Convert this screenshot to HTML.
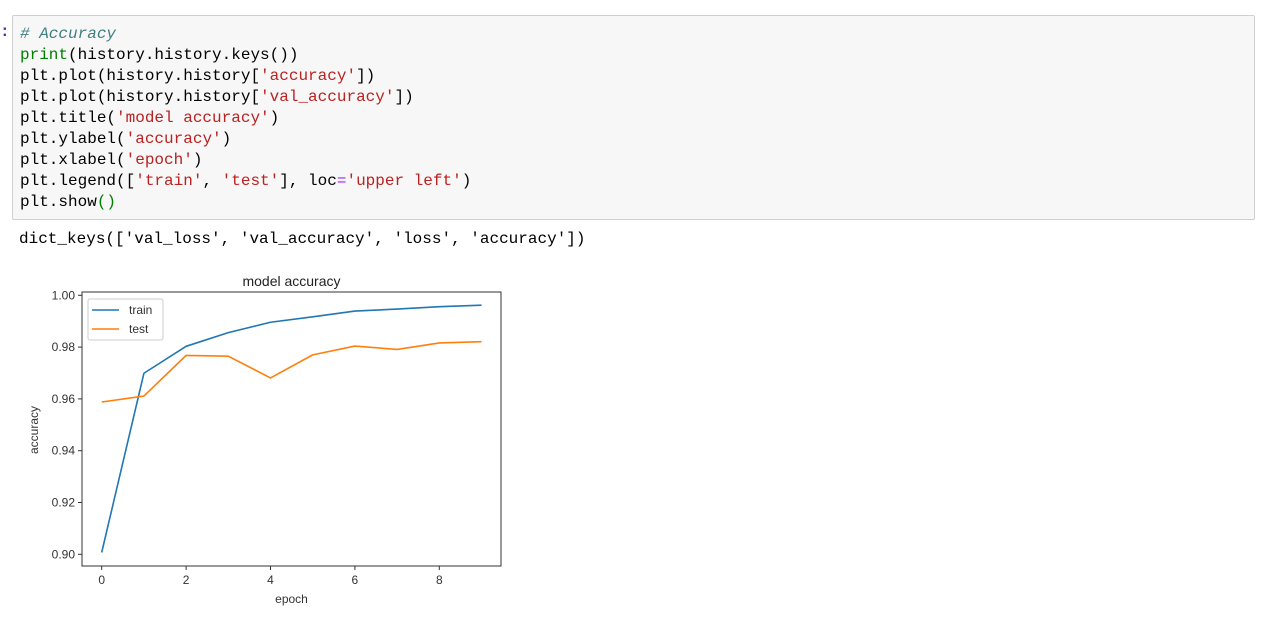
<!DOCTYPE html>
<html><head><meta charset="utf-8"><style>
body{margin:0;width:1269px;height:631px;background:#fff;overflow:hidden;position:relative;font-family:"Liberation Sans",sans-serif}
.cell{position:absolute;left:12px;top:15px;width:1241px;height:203px;background:#f7f7f7;border:1px solid #cfcfcf;border-radius:2px}
pre{margin:0;font-family:"Liberation Mono",monospace;font-size:16px;line-height:21px;color:#000}
.code{position:absolute;left:7px;top:8px}
.c{color:#408080;font-style:italic}.s{color:#ba2121}.k{color:#008000}.o{color:#aa22ff}.g{color:#008000}
.prompt{position:absolute;left:0;top:23px;font-family:"Liberation Mono",monospace;font-size:16px;color:#303f9f;font-weight:bold}
.out{position:absolute;left:19px;top:229px}
</style></head><body>
<div class="prompt">:</div>
<div class="cell"><pre class="code"><span class="c"># Accuracy</span>
<span class="k">print</span>(history.history.keys())
plt.plot(history.history[<span class="s">'accuracy'</span>])
plt.plot(history.history[<span class="s">'val_accuracy'</span>])
plt.title(<span class="s">'model accuracy'</span>)
plt.ylabel(<span class="s">'accuracy'</span>)
plt.xlabel(<span class="s">'epoch'</span>)
plt.legend([<span class="s">'train'</span>, <span class="s">'test'</span>], loc<span class="o">=</span><span class="s">'upper left'</span>)
plt.show<span class="g">()</span></pre></div>
<pre class="out">dict_keys(['val_loss', 'val_accuracy', 'loss', 'accuracy'])</pre>
<svg id="chart" style="position:absolute;left:0;top:0" width="1269" height="631" font-family="Liberation Sans, sans-serif"></svg>
<script>
const epochs=[0,1,2,3,4,5,6,7,8,9];
const trainAcc=[0.9007,0.9699,0.9803,0.9856,0.9896,0.9917,0.9939,0.9947,0.9956,0.9962];
const testAcc=[0.9588,0.9611,0.9768,0.9765,0.9681,0.9770,0.9804,0.9791,0.9816,0.9821];
const yTicks=[0.90,0.92,0.94,0.96,0.98,1.00];
const xTicks=[0,2,4,6,8];
const svg=document.getElementById('chart');
const NS='http://www.w3.org/2000/svg';
const L=82,R=501,T=292,B=566;
function sx(v){return 101.7+(v-0)*(439.3-101.7)/8;}
function sy(v){return 554.3-(v-0.90)*(554.3-295.3)/0.10;}
function mk(tag,attrs,parent){const e=document.createElementNS(NS,tag);for(const k in attrs)e.setAttribute(k,attrs[k]);(parent||svg).appendChild(e);return e;}
yTicks.forEach(t=>{
 const l=mk('line',{x1:L-4,x2:L,y1:sy(t),y2:sy(t),stroke:'#333','stroke-width':1});
 
 
 const tx=mk('text',{x:L-7,y:sy(t)+4,'text-anchor':'end','font-size':12,fill:'#333'});
 tx.textContent=t.toFixed(2);
 
 
});
xTicks.forEach(t=>{
 const l=mk('line',{x1:sx(t),x2:sx(t),y1:B,y2:B+4,stroke:'#333','stroke-width':1});
 
 
 const tx=mk('text',{x:sx(t),y:B+18,'text-anchor':'middle','font-size':12,fill:'#333'});
 tx.textContent=t;
 
 
});
function line(vals,color,name){
 const p=mk('polyline',{points:vals.map((v,i)=>sx(epochs[i])+','+sy(v)).join(' '),fill:'none',stroke:color,'stroke-width':1.6,'stroke-linejoin':'round'});
 
 
}
line(trainAcc,'#1f77b4','train-line');
line(testAcc,'#ff7f0e','test-line');
const frame=mk('rect',{x:L,y:T,width:R-L,height:B-T,fill:'none',stroke:'#333','stroke-width':1});


const title=mk('text',{x:(L+R)/2,y:286,'text-anchor':'middle','font-size':14,fill:'#222'});
title.textContent='model accuracy';


const xl=mk('text',{x:(L+R)/2,y:603,'text-anchor':'middle','font-size':12,fill:'#333'});
xl.textContent='epoch';


const yl=mk('text',{x:0,y:0,'text-anchor':'middle','font-size':12,fill:'#333',transform:'translate(38,430) rotate(-90)'});
yl.textContent='accuracy';


const lg=mk('g',{});


mk('rect',{x:88,y:299,width:75,height:41,rx:2,fill:'#fff',stroke:'#ccc','stroke-width':1},lg);
[['train','#1f77b4',310],['test','#ff7f0e',329]].forEach(([n,c,y])=>{
 mk('line',{x1:92,x2:119,y1:y,y2:y,stroke:c,'stroke-width':1.6},lg);
 const t=mk('text',{x:129,y:y+4,'font-size':12,fill:'#333'},lg);
 t.textContent=n;
 
 
});
</script>
</body></html>
